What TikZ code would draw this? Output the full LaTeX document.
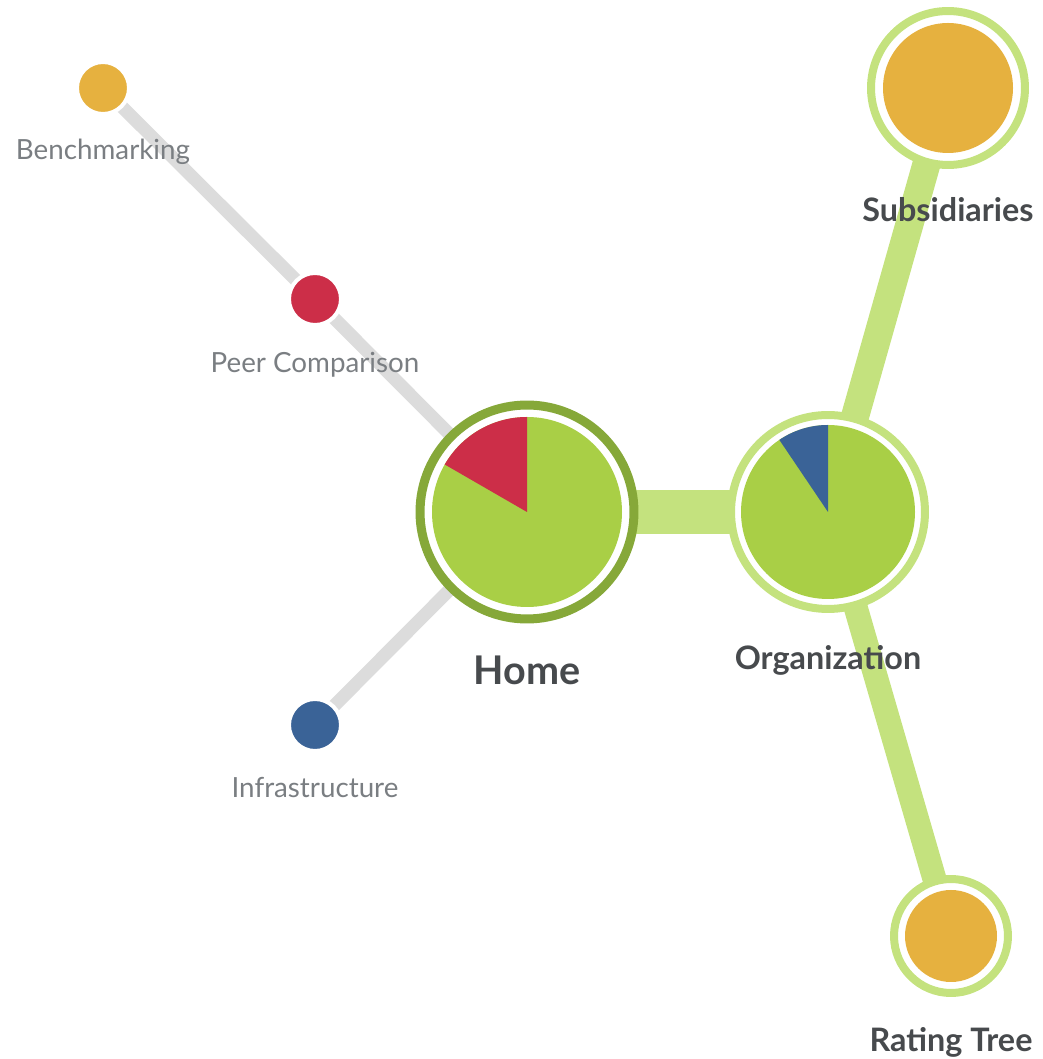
\documentclass[tikz,border=0pt]{standalone}
\usepackage{fontspec}
\setmainfont{Lato}
\usetikzlibrary{calc, positioning}
\pgfdeclarelayer{bg}
\pgfsetlayers{bg,main}
\definecolor{piegreen}{HTML}{A9CF46}
\definecolor{darkring}{HTML}{86A839}
\definecolor{lightring}{HTML}{C4E27E}
\definecolor{amber}{HTML}{E6B13F}
\definecolor{crimson}{HTML}{CC2E48}
\definecolor{steel}{HTML}{3A6397}
\definecolor{greyline}{HTML}{DCDCDC}
\definecolor{darktext}{HTML}{474A4D}
\definecolor{softtext}{HTML}{7A7E82}

\begin{document}
\begin{tikzpicture}
			[x=0.02cm, y=0.02cm,
			hub/.style={circle, fill=white, draw=lightring, line width=0.16cm, inner sep=0pt},
			dot/.style={circle, draw=white, line width=0.08cm, minimum size=1.04cm, inner sep=0pt},
			bar/.style={lightring},
			spoke/.style={greyline, line width=0.26cm},
			bigname/.style={text=darktext, font=\bfseries\fontsize{18.4}{22}\selectfont, anchor=base},
			smallname/.style={text=softtext, font=\fontsize{15.8}{19}\selectfont, anchor=base}]
			\useasboundingbox (0,0) rectangle (1043,1059);
			% nodes %
			\node[hub, draw=darkring, line width=0.18cm, minimum size=4.28cm] (home) at (527,547) {};
			\node[hub, minimum size=3.88cm] (org) at (828,547) {};
			\node[hub, minimum size=3.08cm] (subs) at (948,971) {};
			\node[hub, minimum size=2.28cm] (rating) at (951,123) {};
			\node[dot, fill=amber] (bench) at (103,971) {};
			\node[dot, fill=crimson] (peer) at (315,760) {};
			\node[dot, fill=steel] (infra) at (315,334) {};

			% pies %
			\fill[piegreen] (home.center) circle (95);
			\fill[crimson] (home.center) -- ++(90:95) arc[start angle=90, end angle=150, radius=95] -- cycle;
			\fill[piegreen] (org.center) circle (87);
			\fill[steel] (org.center) -- ++(90:87) arc[start angle=90, end angle=124, radius=87] -- cycle;
			\fill[amber] (subs.center) circle (65);
			\fill[amber] (rating.center) circle (46);

			% labels %
			\node[bigname, font=\bfseries\fontsize{22.5}{27}\selectfont, below=3.46cm of home.center, anchor=base] (homelbl) {Home};
			\node[bigname, below=3.16cm of org.center, anchor=base] (orglbl) {Organization};
			\node[bigname, below=2.68cm of subs.center, anchor=base] (subslbl) {Subsidiaries};
			\node[bigname, below=2.32cm of rating.center, anchor=base] (ratinglbl) {Rating Tree};
			\node[smallname, below=1.44cm of bench.center, anchor=base] (benchlbl) {Benchmarking};
			\node[smallname, below=1.48cm of peer.center, anchor=base] (peerlbl) {Peer Comparison};
			\node[smallname, below=1.46cm of infra.center, anchor=base] (infralbl) {Infrastructure};

			% edges %
			\begin{pgfonlayer}{bg}
			\draw[bar, line width=0.9cm] (home.center) -- (org.center);
			\draw[bar, line width=0.56cm] (org.center) -- (subs.center);
			\draw[bar, line width=0.48cm] (org.center) -- (rating.center);
			\draw[spoke] (bench.center) -- (peer.center);
			\draw[spoke] (peer.center) -- (home.center);
			\draw[spoke] (infra.center) -- (home.center);
			\end{pgfonlayer}
\end{tikzpicture}
\end{document}
